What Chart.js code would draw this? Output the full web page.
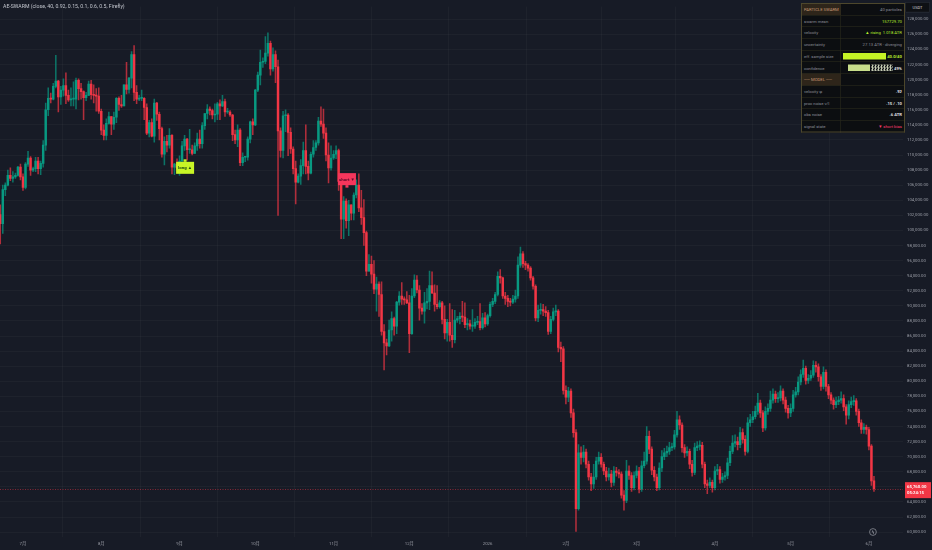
<!DOCTYPE html>
<html>
<head>
<meta charset="utf-8">
<script src="https://cdn.jsdelivr.net/npm/chart.js@4.4.1/dist/chart.umd.min.js"></script>
<style>
  html, body { margin: 0; padding: 0; background: #171b26; }
  #wrap { position: relative; width: 932px; height: 550px; overflow: hidden; }
  #c { position: absolute; left: 0; top: 0; }
  /* overlays are laid out at 2x and scaled down, so tiny text stays crisp */
  .half { position: absolute; transform: scale(0.5); transform-origin: 0 0;
          font-family: Roboto, "Noto Sans", sans-serif; }
  #title { left: 3px; top: 3px; font-size: 10.4px; color: #c3c6ce; white-space: nowrap; }
  #usdt { left: 905px; top: 2px; width: 48px; height: 19px; line-height: 19px; text-align: center;
          background: #0e1014; border: 1px solid #3a3e4a; border-radius: 2px;
          font-size: 8px; color: #d1d4dc; }
  #panel { left: 801px; top: 3px; }
  #panel table { border-collapse: collapse; width: 202px; background: #0c0e11;
                 border: 2px solid #4d472c; font-size: 8.4px; color: #8a8d96; }
  #panel tr { height: 23.4px; }
  #panel td { padding: 0 4px; border: 1px solid #2f2e1f; white-space: nowrap; }
  #panel td:first-child { width: 66px; }
  #panel td:last-child { text-align: right; }
  #panel .hd td:first-child { background: #2e251a; color: #c99a74; }
  #panel .lime { color: #b6ee2c; }
  #panel .white { color: #e6e8ec; font-weight: 600; }
  #panel .pink { color: #ff3d6e; }
  #panel .row { display: flex; justify-content: flex-end; align-items: center; gap: 2px; }
  #panel .ess { display: inline-block; width: 86px; height: 13px; background: #c6f425; }
  #panel .cf1 { display: inline-block; width: 44px; height: 13px; background: #c8de8a; }
  #panel .cf2 { display: inline-block; width: 44px; height: 13px;
                background: repeating-conic-gradient(#c4cab2 0 25%, #111316 0 50%) 0 0 / 6px 6px; }
</style>
</head>
<body>
<div id="wrap">
  <canvas id="c" width="932" height="550"></canvas>
  <div id="title" class="half">AE-SWARM (close, 40, 0.92, 0.15, 0.1, 0.6, 0.5, Firefly)</div>
  <div id="usdt" class="half">USDT</div>
  <div id="panel" class="half">
    <table>
      <tr class="hd"><td>PARTICLE SWARM</td><td>40 particles</td></tr>
      <tr><td>swarm mean</td><td class="lime">157729.70</td></tr>
      <tr><td>velocity</td><td class="lime">▲ rising &nbsp;1.018 ATR</td></tr>
      <tr><td>uncertainty</td><td>27.13 ATR · diverging</td></tr>
      <tr><td>eff. sample size</td><td><div class="row"><span class="ess"></span><b class="lime">40.0/40</b></div></td></tr>
      <tr><td>confidence</td><td><div class="row"><span class="cf1"></span><span class="cf2"></span><b class="white">49%</b></div></td></tr>
      <tr class="hd"><td>── MODEL ──</td><td></td></tr>
      <tr><td>velocity φ</td><td class="white">.92</td></tr>
      <tr><td>proc noise v/l</td><td class="white">.15 / .10</td></tr>
      <tr><td>obs noise</td><td class="white">.6 ATR</td></tr>
      <tr><td>signal state</td><td class="pink">▼ short bias</td></tr>
    </table>
  </div>
</div>
<script>
// ── Data (prices in thousands of USDT, one candle per day) ──────
// day 0 = 1 Jul 2025; first candle is 22 Jun 2025
const firstDay = -9;
const firstOpen = 102.1;

const closes = [
  100.9, 105.4, 106.0, 107.3, 106.9, 107.1, 107.3, 108.4, 107.1,                       // Jun
  105.7, 108.8, 109.6, 108.0, 108.2, 109.2, 108.2, 108.9, 111.3, 116.0, 117.5, 117.4, 119.1, 119.8, 117.7, 118.6,
  119.2, 117.9, 117.3, 117.4, 117.4, 119.9, 118.8, 118.4, 117.6, 117.9, 119.4, 118.0, 117.9, 117.8, 115.8,       // Jul
  113.3, 112.6, 114.2, 115.1, 114.1, 115.0, 117.5, 116.7, 116.5, 119.3, 118.7, 120.2, 123.3, 118.3, 117.4, 117.5,
  117.5, 116.3, 112.9, 114.3, 112.5, 116.9, 115.4, 113.5, 110.1, 111.8, 111.3, 112.6, 108.4, 108.8, 108.3,       // Aug
  109.2, 111.2, 112.1, 110.7, 110.7, 110.2, 111.2, 112.1, 111.5, 113.9, 115.5, 116.1, 115.9, 115.3, 115.4,
  116.8, 116.5, 117.1, 115.7, 115.7, 115.3, 112.7, 112.0, 113.3, 109.0, 109.7, 109.7, 112.1, 114.4, 114.0,       // Sep
  118.6, 120.6, 122.3, 122.4, 123.5, 124.8, 121.4, 123.3, 121.7, 113.2, 110.6, 115.2, 115.3, 113.0, 110.8, 108.2,
  106.4, 107.2, 108.6, 110.6, 108.5, 107.6, 110.1, 111.0, 111.6, 114.5, 114.1, 112.9, 110.0, 108.3, 109.6,       // Oct
  110.1, 110.6, 106.5, 101.5, 103.9, 101.3, 103.4, 102.3, 104.7, 106.0, 103.0, 101.7, 99.7, 94.6, 95.5,
  94.2, 92.2, 92.9, 91.5, 86.6, 85.1, 84.7, 86.8, 88.3, 87.3, 90.5, 91.3, 90.9, 90.8, 90.4,                     // Nov
  86.3, 91.3, 93.4, 92.1, 89.7, 89.3, 90.4, 90.6, 92.7, 91.7, 90.2, 89.9, 90.4, 88.2, 86.4, 87.8,
  86.1, 85.5, 88.1, 88.3, 88.6, 88.5, 87.5, 87.6, 87.3, 87.3, 87.8, 87.9, 87.1, 88.4, 87.6,                     // Dec
  88.7, 90.2, 90.6, 91.5, 93.9, 93.7, 91.3, 91.0, 90.6, 90.5, 90.9, 91.3, 95.4, 96.9, 95.6, 95.4,
  95.0, 93.7, 92.6, 88.4, 89.4, 89.5, 89.3, 89.1, 86.6, 88.2, 89.2, 89.3, 84.5, 84.3, 78.8,                     // Jan
  77.9, 78.7, 75.8, 73.2, 63.1, 70.5, 69.9, 70.6, 69.0, 67.3, 66.4, 67.3, 69.4, 69.9,
  69.0, 68.1, 67.3, 67.7, 66.6, 68.1, 67.9, 67.7, 64.9, 64.2, 68.1, 67.5, 65.9, 67.5,                           // Feb
  68.1, 65.7, 68.8, 69.4, 72.7, 71.0, 68.2, 67.3, 65.9, 68.5, 70.0, 70.5, 70.7, 71.2, 71.3, 72.9,
  74.9, 74.2, 71.2, 70.5, 70.7, 69.0, 67.9, 71.2, 71.4, 71.5, 69.0, 66.4, 66.2, 66.6, 65.9,                     // Mar
  68.1, 68.3, 67.0, 67.3, 67.5, 69.2, 70.7, 71.8, 72.0, 71.6, 73.2, 72.3, 70.7, 74.5, 74.9,
  75.3, 76.0, 77.1, 75.8, 73.8, 76.0, 76.4, 77.5, 78.3, 77.7, 77.8, 78.7, 77.5, 76.4, 75.8,                     // Apr
  76.4, 78.2, 78.6, 79.9, 80.9, 81.7, 80.1, 80.4, 80.8, 82.1, 81.9, 80.6, 79.3, 81.2, 79.3, 78.2,
  77.5, 76.9, 77.3, 77.5, 77.7, 76.6, 75.5, 76.9, 77.3, 77.4, 76.0, 74.5, 73.6, 73.9, 73.6,                     // May
  71.4, 66.8, 65.76                                                                                              // Jun
];

const highs = [
  103.4, 106.0, 106.3, 108.0, 108.3, 107.8, 107.6, 108.5, 108.8,
  107.5, 109.0, 110.5, 109.8, 108.4, 109.7, 109.7, 109.2, 111.9, 116.9, 118.9, 118.2, 119.5, 123.2, 119.9, 119.1,
  120.1, 120.9, 118.6, 118.9, 119.7, 120.2, 120.1, 119.5, 118.5, 118.3, 119.8, 119.9, 119.3, 118.8, 118.9,
  116.1, 114.0, 114.8, 115.7, 115.1, 115.7, 117.6, 117.7, 117.9, 119.3, 122.3, 120.3, 123.7, 124.5, 119.2, 117.9,
  118.6, 117.6, 116.8, 114.6, 114.8, 117.4, 117.0, 115.7, 113.7, 112.4, 112.6, 113.5, 112.7, 108.9, 109.5,
  109.9, 111.8, 112.6, 112.2, 113.4, 111.3, 111.6, 112.9, 113.3, 114.3, 115.5, 116.7, 116.4, 116.1, 116.8,
  117.0, 117.3, 117.9, 117.4, 116.2, 115.9, 115.4, 113.3, 114.0, 113.5, 110.3, 109.8, 112.4, 114.5, 114.8,
  118.7, 121.0, 123.9, 122.9, 125.7, 126.2, 125.1, 124.2, 123.8, 122.6, 113.6, 115.8, 116.0, 115.5, 113.6, 111.1,
  109.2, 107.5, 109.4, 111.7, 114.0, 109.2, 110.4, 111.9, 111.9, 115.0, 116.4, 116.1, 113.6, 111.6, 111.2,
  110.6, 111.2, 110.8, 107.3, 104.5, 104.2, 104.0, 103.4, 105.0, 106.7, 107.5, 105.3, 104.1, 99.9, 96.8,
  96.6, 96.0, 93.8, 93.2, 93.2, 87.5, 85.6, 88.1, 89.2, 88.5, 90.6, 91.9, 93.1, 91.2, 91.9,
  91.4, 92.3, 94.1, 94.0, 92.7, 90.3, 91.8, 92.3, 94.6, 94.5, 92.8, 92.7, 90.7, 90.6, 90.0, 88.2,
  90.3, 89.5, 89.4, 88.6, 89.1, 90.6, 90.4, 88.3, 88.1, 89.5, 88.3, 88.6, 90.3, 89.0, 89.1,
  88.9, 90.5, 91.0, 91.8, 94.5, 94.8, 93.8, 91.8, 91.4, 91.0, 91.4, 92.1, 96.5, 97.8, 97.2, 95.9,
  95.6, 95.2, 93.9, 92.8, 90.1, 90.3, 90.2, 89.9, 89.4, 88.6, 89.7, 90.1, 89.5, 85.2, 84.6,
  79.4, 79.2, 79.0, 76.3, 73.6, 71.6, 71.3, 71.5, 71.0, 69.4, 67.8, 69.0, 69.9, 70.6,
  70.4, 69.3, 68.6, 68.5, 68.2, 68.7, 68.6, 68.3, 68.0, 65.5, 69.5, 68.8, 67.9, 68.0,
  68.8, 68.6, 69.4, 70.6, 74.0, 73.4, 71.3, 68.7, 67.7, 69.2, 70.8, 71.1, 71.4, 71.9, 71.8, 73.5,
  76.0, 75.4, 74.5, 71.6, 71.3, 71.0, 69.5, 71.8, 72.0, 72.1, 71.9, 69.3, 66.9, 67.2, 66.9,
  68.7, 69.0, 68.7, 67.8, 68.0, 69.8, 71.4, 72.8, 72.9, 72.6, 73.9, 73.7, 72.8, 75.2, 75.6,
  76.0, 76.7, 78.4, 77.5, 76.1, 76.6, 77.0, 78.7, 79.0, 78.7, 78.5, 79.4, 79.0, 77.9, 76.8,
  77.0, 78.8, 79.2, 80.6, 81.5, 82.8, 82.0, 80.9, 81.4, 82.7, 82.6, 82.3, 80.9, 81.9, 81.5, 79.6,
  78.5, 77.8, 77.9, 78.0, 78.6, 78.2, 76.9, 77.4, 77.9, 78.1, 77.7, 76.3, 74.9, 74.4, 74.2,
  73.9, 71.6, 67.4
];

const lows = [
  98.2, 99.6, 104.6, 105.9, 106.6, 106.4, 106.9, 107.2, 106.7,
  105.3, 105.5, 108.5, 107.3, 107.8, 107.8, 107.5, 107.4, 108.4, 110.6, 115.2, 116.9, 117.3, 118.9, 115.7, 116.7,
  117.8, 116.8, 117.1, 116.5, 116.5, 116.1, 117.3, 117.4, 114.7, 117.2, 117.9, 117.4, 116.9, 115.8, 115.5,
  112.7, 112.0, 112.0, 114.1, 112.7, 113.4, 114.3, 115.9, 116.3, 116.5, 118.1, 118.2, 118.9, 117.2, 116.8, 117.2,
  117.2, 114.7, 112.7, 112.4, 112.4, 111.7, 114.6, 112.0, 109.7, 108.7, 110.4, 110.9, 107.5, 107.4, 108.1,
  107.3, 108.6, 110.6, 109.3, 110.2, 110.0, 110.2, 110.6, 110.9, 110.9, 113.4, 114.8, 115.3, 114.8, 114.4,
  114.7, 114.7, 116.4, 115.1, 115.5, 115.1, 111.9, 111.5, 111.1, 108.6, 108.6, 109.1, 109.3, 111.6, 112.7,
  113.9, 118.4, 119.3, 121.6, 122.1, 123.1, 120.6, 121.1, 119.6, 102.0, 109.7, 109.6, 113.1, 109.9, 110.2, 107.5,
  103.5, 106.3, 106.1, 107.5, 107.5, 106.7, 107.5, 109.7, 110.6, 111.3, 113.8, 112.2, 109.2, 106.3, 108.0,
  109.4, 109.5, 105.3, 98.9, 98.9, 100.3, 99.3, 101.4, 101.4, 104.3, 102.5, 100.8, 98.0, 94.0, 94.6,
  93.0, 91.6, 89.3, 88.6, 86.1, 81.5, 83.5, 84.6, 85.3, 86.1, 86.3, 90.1, 90.2, 90.2, 90.3,
  83.8, 86.2, 91.1, 91.7, 88.1, 88.9, 87.7, 89.6, 89.5, 91.6, 89.3, 89.6, 89.7, 87.6, 85.6, 85.3,
  85.3, 84.5, 85.1, 87.8, 87.6, 87.9, 87.1, 86.8, 86.9, 86.6, 87.0, 87.5, 86.8, 86.9, 87.2,
  87.4, 88.5, 89.9, 90.3, 91.3, 93.0, 91.0, 90.2, 89.9, 90.0, 90.3, 90.5, 91.0, 95.1, 95.1, 94.8,
  94.6, 93.4, 92.2, 88.0, 87.9, 88.9, 88.7, 88.6, 86.2, 86.3, 88.0, 88.7, 83.9, 82.6, 78.3,
  77.0, 77.3, 75.2, 72.6, 60.1, 62.9, 69.0, 69.3, 68.5, 66.9, 65.5, 65.8, 67.0, 69.0,
  68.6, 67.6, 66.8, 66.9, 66.0, 66.2, 67.4, 67.2, 64.5, 62.9, 63.9, 67.0, 65.4, 65.6,
  67.2, 65.2, 65.4, 68.5, 69.0, 70.4, 67.6, 66.8, 65.5, 65.6, 68.0, 69.6, 70.0, 70.3, 70.8, 71.0,
  72.6, 73.6, 70.6, 69.9, 70.1, 68.4, 67.4, 67.6, 70.8, 70.9, 68.5, 65.9, 65.1, 65.9, 65.3,
  65.6, 67.6, 66.5, 66.6, 66.9, 67.1, 68.8, 70.4, 71.3, 70.9, 71.2, 71.8, 70.2, 70.5, 74.0,
  74.5, 75.0, 75.6, 75.2, 73.3, 73.5, 75.6, 76.0, 77.1, 77.2, 77.2, 77.4, 77.0, 75.9, 75.1,
  75.3, 76.0, 77.9, 78.2, 79.5, 80.5, 79.6, 79.7, 80.1, 80.5, 81.2, 80.0, 78.8, 79.0, 78.7, 77.7,
  77.0, 76.3, 76.5, 76.9, 77.1, 76.1, 74.3, 75.0, 76.5, 76.8, 75.5, 74.0, 73.1, 73.1, 73.0,
  70.9, 66.2, 65.4
];

// x axis: month starts (days since 1 Jul 2025) and their labels
const monthDays   = [0, 31, 62, 92, 123, 153, 184, 215, 243, 274, 304, 335];
const monthLabels = ['7月', '8月', '9月', '10月', '11月', '12月', '2026', '2月', '3月', '4月', '5月', '6月'];

// y axis ticks (thousands)
const priceTicks = [60, 62, 64, 66, 68, 70, 72, 74, 76, 78, 80, 82, 84, 86, 88, 90, 92, 94, 96, 98,
                    100, 102, 104, 106, 108, 110, 112, 114, 116, 118, 120, 122, 124, 126, 128];

// indicator signal labels on the chart
const signals = [
  { day: 64.2, price: 108.3, side: 'long',  text: 'long ▲' },
  { day: 128.3, price: 106.8, side: 'short', text: 'short ▼' },
];

// ── Derived candle fields ────────────────────────────────────────
const UP = '#089981';
const DOWN = '#f23645';
const days  = closes.map((_, i) => firstDay + i);
const opens = closes.map((_, i) => (i === 0 ? firstOpen : closes[i - 1]));
const isUp  = closes.map((c, i) => c >= opens[i]);

const fmtPrice = (v) => (v * 1000).toLocaleString('en-US', { minimumFractionDigits: 2, maximumFractionDigits: 2 });
const tickFont = { family: 'Roboto, "Noto Sans CJK SC", sans-serif', size: 4.3 };
const gridColor = 'rgba(255, 255, 255, 0.032)';

// ── Overlay plugin: last price line/tag, signal boxes, event marker ──
const overlay = {
  id: 'overlay',
  afterDatasetsDraw(chart) {
    const { ctx, chartArea: a, scales: { x, y } } = chart;
    ctx.save();

    // last price dotted line
    const last = closes[closes.length - 1];
    const ly = Math.round(y.getPixelForValue(last)) + 0.5;
    ctx.strokeStyle = 'rgba(242, 54, 69, 0.5)';
    ctx.lineWidth = 1;
    ctx.setLineDash([1, 1.5]);
    ctx.beginPath();
    ctx.moveTo(a.left, ly);
    ctx.lineTo(a.right, ly);
    ctx.stroke();
    ctx.setLineDash([]);

    // signal labels
    for (const s of signals) {
      const cx = x.getPixelForValue(s.day);
      const cy = y.getPixelForValue(s.price);
      const long = s.side === 'long';
      ctx.fillStyle = long ? '#c8f526' : '#f5365c';
      ctx.fillRect(cx - 9, cy - 6, 18, 12);
      if (long) ctx.fillRect(cx - 1.5, cy - 8.5, 3, 2.5);
      else ctx.fillRect(cx - 1.5, cy + 6, 3, 2.5);
      ctx.fillStyle = long ? '#1f4a10' : '#5c0a2a';
      ctx.font = '700 4.4px Roboto, sans-serif';
      ctx.textAlign = 'center';
      ctx.textBaseline = 'middle';
      ctx.fillText(s.text, cx, cy + 0.5);
    }

    // event marker near the bottom
    const ex = x.getPixelForValue(336.6);
    const ey = a.bottom - 5;
    ctx.strokeStyle = '#8a8d96';
    ctx.lineWidth = 0.8;
    ctx.beginPath();
    ctx.arc(ex, ey, 3.4, 0, Math.PI * 2);
    ctx.stroke();
    ctx.fillStyle = '#b2b5be';
    ctx.font = '5px "DejaVu Sans", sans-serif';
    ctx.textAlign = 'center';
    ctx.textBaseline = 'middle';
    ctx.fillText('ϟ', ex, ey + 0.3);

    ctx.restore();
  },
  afterDraw(chart) {
    const { ctx, chartArea: a, scales: { y } } = chart;
    const last = closes[closes.length - 1];
    const ly = y.getPixelForValue(last);
    ctx.save();
    ctx.fillStyle = DOWN;
    ctx.fillRect(a.right + 2, ly - 6.5, 26, 16);
    ctx.fillStyle = '#ffffff';
    ctx.font = '600 4.3px Roboto, sans-serif';
    ctx.textAlign = 'left';
    ctx.textBaseline = 'middle';
    ctx.fillText(fmtPrice(last), a.right + 4, ly - 2);
    ctx.fillText('05:24:15', a.right + 4, ly + 4.5);
    ctx.restore();
  },
};

new Chart(document.getElementById('c'), {
  type: 'bar',
  data: {
    datasets: [
      {
        label: 'wick',
        data: days.map((d, i) => ({ x: d, y: [lows[i], highs[i]] })),
        backgroundColor: isUp.map((u) => (u ? 'rgba(8, 153, 129, 0.7)' : 'rgba(242, 54, 69, 0.7)')),
        barThickness: 0.9,
        grouped: false,
        order: 2,
      },
      {
        label: 'body',
        data: days.map((d, i) => ({ x: d, y: [opens[i], closes[i]] })),
        backgroundColor: isUp.map((u) => (u ? UP : DOWN)),
        barThickness: 1.8,
        minBarLength: 1,
        grouped: false,
        order: 1,
      },
    ],
  },
  options: {
    responsive: false,
    animation: false,
    events: [],
    layout: { padding: 0 },
    plugins: { legend: { display: false }, tooltip: { enabled: false } },
    scales: {
      x: {
        type: 'linear',
        offset: false,
        min: -9.1,
        max: 348.5,
        afterBuildTicks: (scale) => { scale.ticks = monthDays.map((v) => ({ value: v })); },
        afterFit: (scale) => { scale.height = 13; },
        grid: { color: gridColor, drawTicks: false },
        border: { display: false },
        ticks: {
          color: '#9a9da6',
          font: tickFont,
          padding: 4,
          maxRotation: 0,
          autoSkip: false,
          callback: (v) => monthLabels[monthDays.indexOf(v)] ?? '',
        },
      },
      y: {
        position: 'right',
        min: 59.35,
        max: 129.68,
        afterBuildTicks: (scale) => { scale.ticks = priceTicks.map((v) => ({ value: v })); },
        afterFit: (scale) => { scale.width = 29; },
        grid: { color: gridColor, drawTicks: false },
        border: { display: false },
        ticks: {
          color: '#9a9da6',
          font: tickFont,
          padding: 4,
          callback: (v) => fmtPrice(v),
        },
      },
    },
  },
  plugins: [overlay],
});
</script>
</body>
</html>
